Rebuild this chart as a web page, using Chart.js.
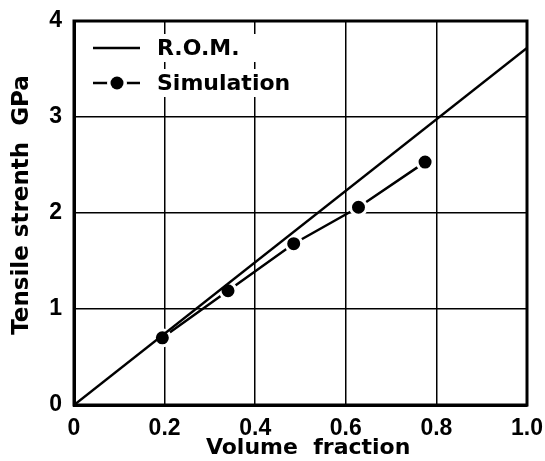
<!DOCTYPE html>
<html>
<head>
<meta charset="utf-8">
<script src="https://cdn.jsdelivr.net/npm/chart.js@4"></script>
<style>
  html, body { margin: 0; padding: 0; background: #fff; }
  #wrap { width: 545px; height: 461px; }
</style>
</head>
<body>
<div id="wrap"><canvas id="strengthChart" width="545" height="461"></canvas></div>
<script>
// data
const romX = [0, 1.0];
const romY = [0, 3.72];
const simX = [0.195, 0.34, 0.485, 0.628, 0.775];
const simY = [0.70, 1.19, 1.68, 2.06, 2.53];
const xTicks = [0, 0.2, 0.4, 0.6, 0.8, 1.0];
const yTicks = [0, 1, 2, 3, 4];
const legendLabels = ['R.O.M.', 'Simulation'];

const toPoints = (xs, ys) => xs.map((x, i) => ({ x: x, y: ys[i] }));

// frame on all four sides + legend inside the plot
const framePlugin = {
  id: 'frame',
  afterDraw(chart) {
    const { ctx, chartArea: a } = chart;
    ctx.save();
    ctx.strokeStyle = '#000';
    ctx.lineWidth = 3;
    ctx.strokeRect(a.left, a.top, a.right - a.left, a.bottom - a.top);

    ctx.font = 'bold 22px "DejaVu Sans"';
    ctx.textBaseline = 'middle';
    const rows = [a.top + 27, a.top + 62];
    rows.forEach((y, i) => {
      const w = ctx.measureText(legendLabels[i]).width;
      ctx.fillStyle = '#fff';
      ctx.fillRect(a.left + 14, y - 14, 86 + w, 28);
      ctx.strokeStyle = '#000';
      ctx.lineWidth = 2.5;
      ctx.beginPath();
      ctx.moveTo(a.left + 19, y);
      ctx.lineTo(a.left + 66, y);
      ctx.stroke();
      if (i === 1) {
        ctx.fillStyle = '#fff';
        ctx.beginPath();
        ctx.arc(a.left + 43, y, 10, 0, Math.PI * 2);
        ctx.fill();
        ctx.fillStyle = '#000';
        ctx.beginPath();
        ctx.arc(a.left + 43, y, 6.5, 0, Math.PI * 2);
        ctx.fill();
      }
      ctx.fillStyle = '#000';
      ctx.fillText(legendLabels[i], a.left + 83, y + 1);
    });
    ctx.restore();
  }
};

new Chart(document.getElementById('strengthChart').getContext('2d'), {
  type: 'scatter',
  data: {
    datasets: [
      {
        label: legendLabels[0],
        data: toPoints(romX, romY),
        showLine: true,
        borderColor: '#000',
        borderWidth: 2.5,
        pointRadius: 0,
        order: 0
      },
      {
        label: legendLabels[1],
        data: toPoints(simX, simY),
        showLine: true,
        borderColor: '#000',
        borderWidth: 2.5,
        pointRadius: 8,
        pointBackgroundColor: '#000',
        pointBorderColor: '#fff',
        pointBorderWidth: 3,
        order: 1
      }
    ]
  },
  options: {
    responsive: false,
    animation: false,
    layout: { padding: { top: 21, right: 18, left: 0, bottom: 0 } },
    plugins: {
      legend: { display: false },
      tooltip: { enabled: false }
    },
    scales: {
      x: {
        type: 'linear',
        min: 0,
        max: 1,
        afterBuildTicks: (s) => { s.ticks = xTicks.map(v => ({ value: v })); },
        afterFit: (s) => {
          s.height = 56;
          s.paddingLeft = 0;
          s.paddingRight = 0;
        },
        grid: { color: '#000', lineWidth: 1.5, drawTicks: false },
        border: { color: '#000', width: 3 },
        ticks: {
          color: '#000',
          padding: 10,
          maxRotation: 0,
          font: { family: 'Liberation Sans', size: 23, weight: 'bold' },
          callback: (v) => (v === 0 ? '0' : v.toFixed(1))
        },
        title: {
          display: true,
          text: '  Volume  fraction',
          color: '#000',
          padding: { top: 0, bottom: 2 },
          font: { family: 'DejaVu Sans', size: 22, weight: 'bold', lineHeight: 1 }
        }
      },
      y: {
        type: 'linear',
        min: 0,
        max: 4,
        afterBuildTicks: (s) => { s.ticks = yTicks.map(v => ({ value: v })); },
        afterFit: (s) => {
          s.width = 74;
          s.paddingTop = 0;
          s.paddingBottom = 0;
        },
        grid: { color: '#000', lineWidth: 1.5, drawTicks: false },
        border: { color: '#000', width: 3 },
        ticks: {
          color: '#000',
          padding: 12,
          font: { family: 'Liberation Sans', size: 23, weight: 'bold' }
        },
        title: {
          display: true,
          text: '  Tensile strenth  GPa',
          color: '#000',
          padding: { top: 8, bottom: 0 },
          font: { family: 'DejaVu Sans', size: 23, weight: 'bold' }
        }
      }
    }
  },
  plugins: [framePlugin]
});
</script>
</body>
</html>
